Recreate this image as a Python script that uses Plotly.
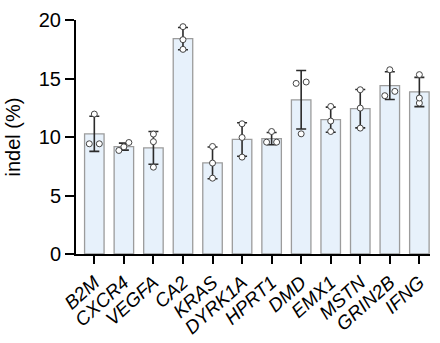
import plotly.graph_objects as go

# Genes and measured indel frequencies (%), three replicates each
genes = ["B2M", "CXCR4", "VEGFA", "CA2", "KRAS", "DYRK1A",
         "HPRT1", "DMD", "EMX1", "MSTN", "GRIN2B", "IFNG"]
mean_indel = [10.27, 9.18, 9.07, 18.41, 7.79, 9.79,
              9.86, 13.18, 11.48, 12.42, 14.39, 13.85]
sd_indel = [1.50, 0.30, 1.40, 0.95, 1.36, 1.43,
            0.52, 2.50, 1.07, 1.64, 1.19, 1.25]
rep_1 = [11.96, 8.85, 10.25, 19.43, 9.19, 11.13, 10.47, 14.70, 12.61, 14.04, 15.75, 15.33]
rep_2 = [9.42, 9.53, 9.60, 18.32, 7.77, 9.96, 9.56, 14.58, 11.36, 12.47, 13.53, 13.33]
rep_3 = [9.42, 9.16, 7.42, 17.49, 6.48, 8.28, 9.56, 10.27, 10.47, 10.76, 13.90, 12.90]

x_idx = list(range(len(genes)))

# Simple beeswarm: replicates that would overlap are spread sideways
SPREAD = 0.17
OVERLAP = 0.4
pt_x, pt_y = [], []
for i in x_idx:
    vals = sorted([rep_1[i], rep_2[i], rep_3[i]])
    clusters = [[vals[0]]]
    for v in vals[1:]:
        if v - clusters[-1][-1] < OVERLAP:
            clusters[-1].append(v)
        else:
            clusters.append([v])
    for c in clusters:
        n = len(c)
        step = 2 * SPREAD if n == 2 else SPREAD
        for k, v in enumerate(c):
            pt_x.append(i + (k - (n - 1) / 2) * step)
            pt_y.append(v)

fig = go.Figure()
fig.add_trace(go.Bar(
    x=x_idx, y=mean_indel, width=0.66,
    marker=dict(color="#E7F1FB", line=dict(color="#9C9C9C", width=1.3)),
    error_y=dict(type="data", array=sd_indel, visible=True,
                 color="#2b2b2b", thickness=1.6, width=5),
    showlegend=False,
))
fig.add_trace(go.Scatter(
    x=pt_x, y=pt_y, mode="markers",
    marker=dict(symbol="circle", size=6, color="white",
                line=dict(color="#444444", width=1)),
    showlegend=False,
))

fig.update_layout(
    width=440, height=343,
    margin=dict(l=76, r=10, t=20, b=89),
    paper_bgcolor="white", plot_bgcolor="white",
    font=dict(family="Liberation Sans, Arial, sans-serif", color="black"),
)
fig.update_xaxes(
    range=[-0.62, 11.36], tickmode="array", tickvals=x_idx,
    ticktext=[f"<i>{g}</i>" for g in genes], tickangle=-42,
    tickfont=dict(size=19), showline=True, linecolor="black", linewidth=2,
    ticks="outside", ticklen=8, tickwidth=2, tickcolor="black",
    showgrid=False, zeroline=False, automargin=False,
)
fig.update_yaxes(
    range=[0, 20], tickvals=[0, 5, 10, 15, 20], tickfont=dict(size=20),
    title=dict(text="indel (%)", font=dict(size=20), standoff=13),
    showline=True, linecolor="black", linewidth=2,
    ticks="outside", ticklen=9, tickwidth=2, tickcolor="black",
    showgrid=False, zeroline=False, automargin=False,
)

fig.write_html("out.html")
